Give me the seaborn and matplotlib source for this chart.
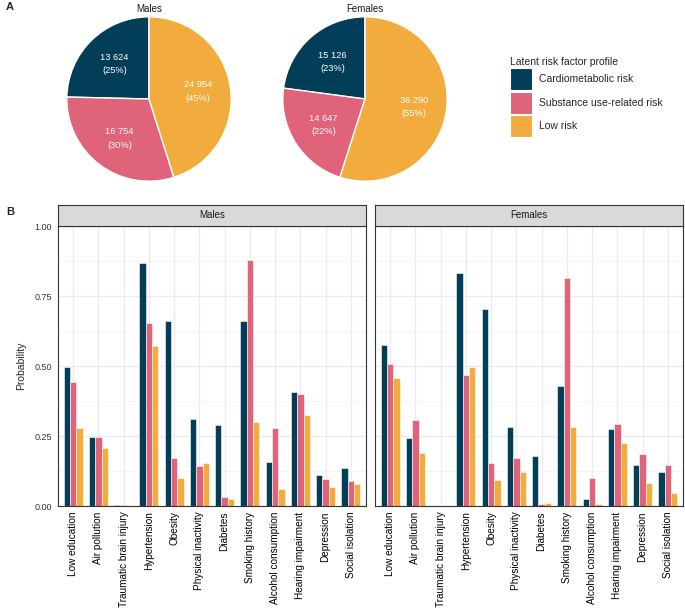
import numpy as np
import pandas as pd
import matplotlib
matplotlib.use("Agg")
import matplotlib.pyplot as plt
from matplotlib.patches import Patch
from matplotlib.ticker import MultipleLocator, FormatStrFormatter
import seaborn as sns

sns.set_style("white")
plt.rcParams["font.family"] = ["Liberation Sans", "DejaVu Sans"]

# data
profiles = ["Cardiometabolic risk", "Substance use-related risk", "Low risk"]
colors = ["#033E59", "#DF6379", "#F2AC3E"]

pie_counts_m = [13624, 16754, 24954]
pie_counts_f = [15126, 14647, 36290]
pie_pct_m = [25, 30, 45]
pie_pct_f = [23, 22, 55]

factors = ["Low education", "Air pollution", "Traumatic brain injury", "Hypertension",
           "Obesity", "Physical inactivity", "Diabetes", "Smoking history",
           "Alcohol consumption", "Hearing impairment", "Depression", "Social isolation"]

males_cardio = [0.498, 0.246, 0.002, 0.869, 0.662, 0.312, 0.289, 0.662, 0.157, 0.406, 0.110, 0.135]
males_subst = [0.444, 0.246, 0.004, 0.652, 0.170, 0.143, 0.031, 0.877, 0.279, 0.399, 0.096, 0.089]
males_low = [0.280, 0.206, 0.001, 0.571, 0.099, 0.154, 0.026, 0.299, 0.061, 0.324, 0.067, 0.077]

females_cardio = [0.575, 0.243, 0.000, 0.831, 0.702, 0.283, 0.177, 0.430, 0.026, 0.275, 0.145, 0.123]
females_subst = [0.506, 0.307, 0.000, 0.468, 0.152, 0.171, 0.007, 0.814, 0.099, 0.292, 0.185, 0.145]
females_low = [0.456, 0.188, 0.000, 0.498, 0.093, 0.123, 0.010, 0.281, 0.007, 0.225, 0.082, 0.048]


def long_df(cardio, subst, low):
    rows = []
    for vals, prof in zip([cardio, subst, low], profiles):
        for f, v in zip(factors, vals):
            rows.append({"factor": f, "profile": prof, "prob": v})
    return pd.DataFrame(rows)


W, H = 685, 610
fig = plt.figure(figsize=(W / 100, H / 100), dpi=100)


def px_axes(x0, y0, x1, y1):
    return fig.add_axes([x0 / W, 1 - y1 / H, (x1 - x0) / W, (y1 - y0) / H])


# panel A - pies
for (x0, title, counts, pcts) in [(66, "Males", pie_counts_m, pie_pct_m),
                                   (282, "Females", pie_counts_f, pie_pct_f)]:
    ax = px_axes(x0, 16, x0 + 166, 182)
    wedges, texts = ax.pie(counts, colors=colors, startangle=90, counterclock=True,
                           wedgeprops=dict(edgecolor="white", linewidth=1.0),
                           labels=[f"{c:,}".replace(",", " ") + f"\n({p}%)" for c, p in zip(counts, pcts)],
                           labeldistance=0.6,
                           textprops=dict(color="white", fontsize=6.7, ha="center", va="center",
                                          linespacing=1.6))
    ax.set_xlim(-1.01, 1.01)
    ax.set_ylim(-1.01, 1.01)
    ax.set_aspect("equal")
    ax.set_title(title, fontsize=7, color="#1A1A1A", pad=3)

fig.text(6 / W, 1 - 7 / H, "A", fontsize=8, fontweight="bold", va="center", ha="left")
fig.text(6 / W, 1 - 212 / H, "B", fontsize=8, fontweight="bold", va="center", ha="left")

handles = [Patch(facecolor=c, edgecolor="white", linewidth=0.8) for c in colors]
leg = fig.legend(handles, profiles, title="Latent risk factor profile", loc="upper left",
                 bbox_to_anchor=(510 / W, 1 - 57 / H), frameon=False, fontsize=7.5,
                 title_fontsize=7.5, handlelength=2.1, handleheight=2.9, labelspacing=0.12,
                 handletextpad=0.7, borderaxespad=0, borderpad=0)
leg._legend_box.align = "left"

# panel B - bars
for x0, title, vals, show_y in [(58, "Males", (males_cardio, males_subst, males_low), True),
                                (375, "Females", (females_cardio, females_subst, females_low), False)]:
    ax = px_axes(x0, 226, x0 + 308, 506)
    df = long_df(*vals)
    sns.barplot(data=df, x="factor", y="prob", hue="profile", order=factors,
                hue_order=profiles, palette=colors, width=0.75, saturation=1,
                edgecolor="white", linewidth=0.4, legend=False, ax=ax)
    ax.set_xlim(-0.6, len(factors) - 0.4)
    ax.set_ylim(0, 1)
    ax.yaxis.set_major_locator(MultipleLocator(0.25))
    ax.yaxis.set_minor_locator(MultipleLocator(0.125))
    ax.yaxis.set_major_formatter(FormatStrFormatter("%.2f"))
    ax.grid(which="major", color="#EBEBEB", linewidth=0.9)
    ax.grid(which="minor", axis="y", color="#F2F2F2", linewidth=0.5)
    ax.set_axisbelow(True)
    for s in ax.spines.values():
        s.set_color("#333333")
        s.set_linewidth(0.8)
    ax.tick_params(axis="x", rotation=90, labelsize=7.2, length=2.5, width=0.6,
                   colors="#333333", labelcolor="black", pad=1.5)
    ax.tick_params(axis="y", which="major", labelsize=6.5, length=2.5, width=0.6,
                   colors="#333333", labelcolor="#333333", pad=2)
    ax.tick_params(axis="y", which="minor", length=0)
    ax.set_xlabel("")
    if show_y:
        ax.set_ylabel("Probability", fontsize=7.5, labelpad=6)
    else:
        ax.set_ylabel("")
        ax.tick_params(axis="y", labelleft=False, length=0)

    sax = px_axes(x0, 205, x0 + 308, 226)
    sax.set_facecolor("#D9D9D9")
    sax.set_xticks([])
    sax.set_yticks([])
    for s in sax.spines.values():
        s.set_color("#333333")
        s.set_linewidth(0.8)
    sax.text(0.5, 0.5, title, transform=sax.transAxes, ha="center", va="center",
             fontsize=7, color="#1A1A1A")

fig.savefig("out.png", dpi=100)
